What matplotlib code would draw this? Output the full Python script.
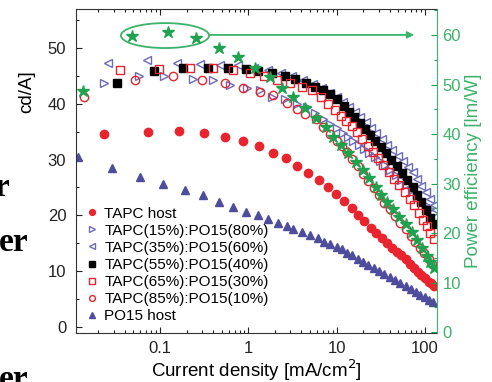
import matplotlib
matplotlib.use("Agg")
import matplotlib.pyplot as plt
from matplotlib.patches import Ellipse
from matplotlib.ticker import LogLocator, MultipleLocator, FixedLocator, FixedFormatter, NullFormatter

plt.rcParams['font.family'] = ['Liberation Sans', 'DejaVu Sans']

# current efficiency (cd/A), left axis
tapc_host_x = [0.023, 0.073, 0.164, 0.316, 0.55, 0.88, 1.32, 1.92, 2.70, 3.60, 4.80, 6.24, 7.89, 9.72,
               12.0, 14.8, 17.4, 20.4, 24.3, 28.2, 32.4, 37.2, 42.7, 47.9, 53.7, 60.3, 67.6, 75.0,
               83.2, 91.2, 100, 110, 117, 126]
tapc_host_y = [34.5, 35.0, 35.2, 34.8, 34.1, 33.4, 32.4, 31.2, 30.2, 28.9, 27.6, 26.4, 25.1, 23.9,
               22.6, 21.4, 20.1, 18.9, 17.8, 16.8, 15.9, 15.0, 14.2, 13.5, 12.8, 12.1, 11.3, 10.6,
               9.9, 9.3, 8.7, 8.1, 7.8, 7.4]

t15_x = [0.0231, 0.0577, 0.111, 0.237, 0.400, 0.624, 0.955, 1.37, 1.87, 2.63, 3.55, 4.57, 5.75, 7.08,
         8.51, 10.0, 11.7, 13.5, 15.5, 17.8, 20.4, 23.4, 26.9, 30.9, 35.5, 40.7, 46.8, 53.7, 61.7,
         70.8, 81.3, 91.2, 102, 115, 126]
t15_y = [43.8, 44.9, 44.9, 44.5, 44.2, 43.4, 42.9, 42.4, 41.3, 40.8, 40.0, 39.4, 38.4, 37.3,
         36.4, 35.6, 34.8, 34.1, 33.4, 32.6, 31.9, 31.1, 30.4, 29.7, 29.0, 28.2, 27.3, 26.4, 25.4,
         24.5, 23.5, 22.7, 21.9, 21.1, 20.5]

t35_x = [0.0256, 0.0711, 0.156, 0.284, 0.481, 0.769, 1.15, 1.66, 2.34, 3.16, 4.17, 5.37, 6.76, 8.32,
         10.0, 11.7, 13.8, 16.2, 18.6, 21.4, 24.5, 28.2, 32.4, 37.2, 42.7, 49.0, 56.2, 64.6, 72.4,
         81.3, 91.2, 102, 115, 126]
t35_y = [47.4, 47.9, 47.4, 47.2, 47.0, 46.9, 46.5, 46.1, 45.5, 44.9, 44.2, 43.5, 42.8, 42.0,
         41.2, 40.3, 39.4, 38.5, 37.7, 36.7, 35.7, 34.7, 33.7, 32.7, 31.7, 30.7, 29.7, 28.7, 27.7,
         26.5, 25.3, 24.1, 22.9, 21.9]

t55_x = [0.0324, 0.085, 0.182, 0.347, 0.589, 0.933, 1.29, 1.86, 2.63, 3.39, 4.47, 5.75, 7.08, 8.51,
         10.2, 12.0, 13.8, 15.8, 18.2, 20.9, 24.0, 27.5, 31.6, 36.3, 41.7, 47.9, 55.0, 63.1, 72.4,
         81.3, 91.2, 102, 115, 126]
t55_y = [43.8, 45.8, 46.5, 46.5, 46.5, 46.3, 45.8, 45.6, 44.9, 44.5, 43.8, 43.1, 42.4, 41.8,
         40.8, 39.6, 38.6, 37.6, 36.5, 35.4, 34.4, 33.3, 32.2, 31.1, 29.9, 28.8, 27.6, 26.4, 25.0,
         23.7, 22.4, 21.0, 19.5, 18.4]

t65_x = [0.0351, 0.0973, 0.219, 0.400, 0.675, 1.05, 1.52, 2.13, 3.00, 4.10, 5.33, 6.61, 7.94, 9.55,
         11.2, 12.9, 14.8, 17.0, 19.5, 22.4, 25.7, 29.5, 33.9, 38.9, 44.7, 51.3, 58.9, 67.6, 75.9,
         85.1, 95.5, 105, 115, 126]
t65_y = [46.1, 46.3, 46.5, 46.5, 46.1, 45.6, 44.9, 44.3, 43.8, 43.1, 42.5, 41.2, 40.0, 38.9,
         37.9, 37.0, 36.1, 34.9, 33.7, 32.5, 31.4, 30.2, 29.0, 27.8, 26.6, 25.4, 24.2, 23.0, 21.9,
         20.5, 19.1, 18.0, 16.9, 15.8]

t85_x = [0.0137, 0.0519, 0.140, 0.300, 0.547, 0.877, 1.37, 1.92, 2.77, 3.60, 4.44, 5.77, 7.08, 8.51,
         10.0, 11.5, 13.2, 15.1, 17.4, 20.0, 22.9, 26.3, 30.2, 34.7, 39.8, 45.7, 52.5, 60.3, 69.2,
         77.6, 87.1, 97.7, 110, 120]
t85_y = [41.3, 44.3, 44.9, 44.3, 43.8, 42.9, 42.2, 41.5, 40.2, 39.1, 38.1, 37.2, 35.8, 34.5,
         33.4, 32.4, 31.4, 30.1, 28.8, 27.5, 26.2, 24.9, 23.6, 22.3, 21.1, 19.9, 18.7, 17.5, 16.3,
         15.3, 14.2, 13.2, 12.1, 11.3]

po15_x = [0.0117, 0.0284, 0.059, 0.108, 0.192, 0.308, 0.468, 0.675, 0.944, 1.30, 1.69, 2.19, 2.77,
          3.24, 4.10, 5.06, 6.08, 7.24, 8.51, 10.0, 11.5, 13.2, 15.1, 17.4, 20.0, 22.9, 26.3, 30.2,
          34.7, 39.8, 45.7, 52.5, 60.3, 69.2, 79.4, 89.1, 100, 112, 123]
po15_y = [30.5, 28.4, 26.8, 25.7, 24.6, 23.6, 22.4, 21.5, 20.6, 20.1, 19.4, 18.7, 18.1,
          17.6, 17.1, 16.5, 16.0, 15.3, 14.8, 14.4, 13.9, 13.3, 12.8, 12.2, 11.7, 11.1, 10.6, 10.0,
          9.5, 9.0, 8.4, 7.9, 7.3, 6.8, 6.2, 5.8, 5.3, 4.9, 4.5]

# power efficiency (lm/W), right axis
pe_x = [0.0133, 0.048, 0.123, 0.256, 0.468, 0.769, 1.20, 1.78, 2.43, 3.24, 4.44, 5.77, 7.50, 9.02,
        11.1, 13.3, 16.4, 19.7, 23.1, 27.7, 31.6, 37.2, 43.7, 51.3, 60.3, 70.8, 81.3, 93.3, 105,
        115, 126]
pe_y = [48.7, 59.8, 60.6, 59.4, 57.4, 55.5, 53.3, 51.5, 49.3, 47.5, 45.3, 43.2, 41.4, 39.4,
        37.8, 36.2, 34.3, 32.7, 31.1, 29.3, 27.7, 26.3, 24.8, 23.3, 21.8, 20.2, 18.6, 16.9, 15.3,
        14.1, 13.0]

red = '#e8242e'
purple = '#6b6bb8'
navy = '#4e4c9c'
green = '#1fa24f'
lgreen = '#3cb36a'

fig = plt.figure(figsize=(4.92, 3.82), dpi=100)
ax = fig.add_axes([76/492, 1 - 333/382, 361/492, 324/382])
ax2 = ax.twinx()

ms = 6
ax.plot(tapc_host_x, tapc_host_y, 'o', color=red, ms=ms, mec=red, label='TAPC host')
ax.plot(t15_x, t15_y, '>', color=purple, ms=ms, mfc='none', mew=1.0, label='TAPC(15%):PO15(80%)')
ax.plot(t35_x, t35_y, '<', color=purple, ms=ms, mfc='none', mew=1.0, label='TAPC(35%):PO15(60%)')
ax.plot(t55_x, t55_y, 's', color='black', ms=ms, label='TAPC(55%):PO15(40%)')
ax.plot(t65_x, t65_y, 's', color=red, ms=ms, mfc='none', mew=1.0, label='TAPC(65%):PO15(30%)')
ax.plot(t85_x, t85_y, 'o', color=red, ms=ms, mfc='none', mew=1.0, label='TAPC(85%):PO15(10%)')
ax.plot(po15_x, po15_y, '^', color=navy, ms=ms, label='PO15 host')

ax2.plot(pe_x, pe_y, '*', color=green, ms=9, mec=green)

ax.set_xscale('log')
ax.set_xlim(0.0112, 137)
ax.set_ylim(-1.1, 57.0)
ax2.set_ylim(-0.2, 65.3)

ax.xaxis.set_major_locator(FixedLocator([0.1, 1, 10, 100]))
ax.xaxis.set_major_formatter(FixedFormatter(['0.1', '1', '10', '100']))
ax.xaxis.set_minor_locator(LogLocator(base=10, subs=range(2, 10)))
ax.xaxis.set_minor_formatter(NullFormatter())
ax.yaxis.set_major_locator(MultipleLocator(10))
ax.yaxis.set_minor_locator(MultipleLocator(5))
ax2.yaxis.set_major_locator(MultipleLocator(10))
ax2.yaxis.set_minor_locator(MultipleLocator(5))

ax.tick_params(which='both', direction='in', top=True, labelsize=12, colors='#222222')
ax.tick_params(which='major', length=4, width=0.8)
ax.tick_params(which='minor', length=2, width=0.8)
ax.tick_params(axis='y', pad=7)
ax.tick_params(axis='x', pad=6)
ax2.tick_params(which='both', direction='in', colors=green, labelsize=12, width=0.8)
ax2.tick_params(which='major', length=4)
ax2.tick_params(which='minor', length=2)
ax2.tick_params(axis='y', labelcolor=lgreen, pad=4)

for s in ['left', 'bottom', 'top']:
    ax.spines[s].set_color('#333333')
    ax2.spines[s].set_visible(False)
ax2.spines['right'].set_color(lgreen)
ax.spines['right'].set_visible(False)

ax.set_xlabel('Current density [mA/cm$^2$]', fontsize=13.5, labelpad=1)
fig.text(27/492, 1 - 92/382, 'cd/A]', rotation=90, fontsize=13.5, ha='center', va='center')
ax2.set_ylabel('Power efficiency [lm/W]', fontsize=13.5, color=lgreen, labelpad=3)

# highlight ellipse and arrow toward the right axis
ax2.add_patch(Ellipse((0.2465, 0.918), 0.244, 0.077, transform=ax2.transAxes,
                      fill=False, ec=lgreen, lw=1.3))
ax2.annotate('', xy=(0.937, 0.92), xytext=(0.368, 0.92), xycoords='axes fraction',
             arrowprops=dict(arrowstyle='-|>', color=lgreen, lw=1.3, mutation_scale=10,
                             shrinkA=0, shrinkB=0))

ax.legend(loc='lower left', bbox_to_anchor=(0.0, 0.0), frameon=False, fontsize=11,
          handlelength=0.8, handletextpad=0.4, labelspacing=0.2, markerscale=0.7,
          borderaxespad=0.25)

# fragments of neighbouring page text at the left edge
fig.text(9/492, 1 - 196/382, 'r', fontsize=24, family='Liberation Serif', weight='bold', ha='right')
fig.text(28/492, 1 - 251/382, 'er', fontsize=24, family='Liberation Serif', weight='bold', ha='right')
fig.text(28/492, 1 - 388/382, 'er', fontsize=24, family='Liberation Serif', weight='bold', ha='right')

fig.savefig('out.png', dpi=100)
